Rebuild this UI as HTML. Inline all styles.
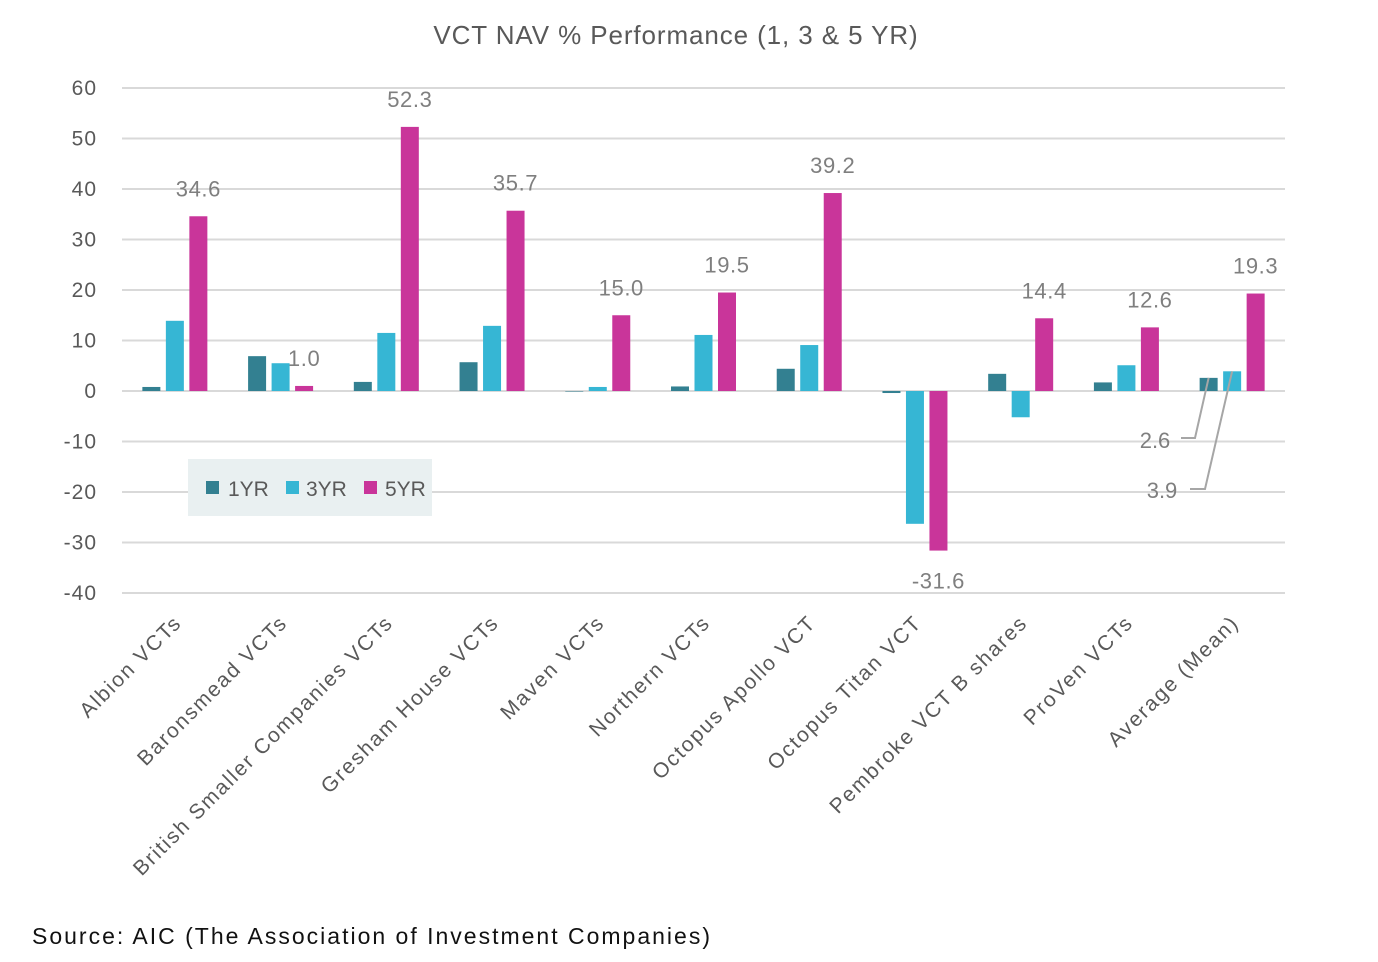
<!DOCTYPE html>
<html><head><meta charset="utf-8"><style>
body{margin:0;background:#fff;width:1378px;height:957px;overflow:hidden;font-family:"Liberation Sans",sans-serif}
</style></head><body>
<svg id="chart" width="1378" height="957" font-family="Liberation Sans, sans-serif">
<text x="676" y="44" text-anchor="middle" font-size="26" letter-spacing="0.9" fill="#595959">VCT NAV % Performance (1, 3 &amp; 5 YR)</text>
<g id="grid"></g><g id="bars"></g><g id="labels"></g>
<g>
<rect x="188" y="459" width="244" height="57" fill="#e9f0f1"/>
<g><rect x="206" y="481" width="13" height="13" fill="#338091"/><text x="228" y="496" font-size="21" fill="#595959">1YR</text></g>
<g><rect x="286" y="481" width="13" height="13" fill="#36b6d4"/><text x="306" y="496" font-size="21" fill="#595959">3YR</text></g>
<g><rect x="364" y="481" width="13" height="13" fill="#c9359a"/><text x="385" y="496" font-size="21" fill="#595959">5YR</text></g>
</g>
<text x="32" y="944" font-size="23" letter-spacing="2" fill="#111">Source: AIC (The Association of Investment Companies)</text>
</svg>
<script>
const categories=["Albion VCTs","Baronsmead VCTs","British Smaller Companies VCTs","Gresham House VCTs","Maven VCTs","Northern VCTs","Octopus Apollo VCT","Octopus Titan VCT","Pembroke VCT B shares","ProVen VCTs","Average (Mean)"];
const yr1=[0.8,6.9,1.8,5.7,0,0.9,4.4,-0.4,3.4,1.7,2.6];
const yr3=[13.9,5.5,11.5,12.9,0.8,11.1,9.1,-26.3,-5.2,5.1,3.9];
const yr5=[34.6,1.0,52.3,35.7,15.0,19.5,39.2,-31.6,14.4,12.6,19.3];
const yTicks=[60,50,40,30,20,10,0,-10,-20,-30,-40];
const NS="http://www.w3.org/2000/svg";
const x0=122,x1=1285,yTop=88,yBot=593,vMax=60,vMin=-40;
const y=v=>yTop+(vMax-v)*(yBot-yTop)/(vMax-vMin);
const cw=(x1-x0)/categories.length;
const cx=i=>x0+cw*(i+0.5);
function mk(tag,attrs,parent){const e=document.createElementNS(NS,tag);for(const k in attrs)e.setAttribute(k,attrs[k]);document.getElementById(parent).appendChild(e);return e;}
yTicks.forEach(t=>{
 const l=mk('line',{x1:x0,x2:x1,y1:y(t),y2:y(t),stroke:'#d9d9d9','stroke-width':2},'grid');
 
 
 const tx=mk('text',{x:97,y:y(t)+7,'text-anchor':'end','font-size':21,'letter-spacing':1,fill:'#595959'},'labels');
 tx.textContent=t;
 
 
});
const series=[[yr1,'#338091',-23.5,'1yr'],[yr3,'#36b6d4',0,'3yr'],[yr5,'#c9359a',23.5,'5yr']];
const bw=18;
categories.forEach((c,i)=>{
 series.forEach(([arr,col,off,nm])=>{
  const v=arr[i];const top=Math.min(y(v),y(0));const h=Math.abs(y(v)-y(0));
  const r=mk('rect',{x:cx(i)+off-bw/2,y:top,width:bw,height:Math.max(h,0.5),fill:col},'bars');
  
  
 });
 const v=yr5[i];
 let lx=cx(i)+23.5, ly=v>=0?y(v)-20:y(v)+38;
 const dl=mk('text',{x:lx,y:ly,'text-anchor':'middle','font-size':22,'letter-spacing':0.6,fill:'#7f7f7f'},'labels');
 dl.textContent=v.toFixed(1);
 
 
 const ax=cx(i)+8, ay=624;
 const cl=mk('text',{x:ax,y:ay,'text-anchor':'end','font-size':21,'letter-spacing':1.8,fill:'#595959',transform:`rotate(-45 ${ax} ${ay})`},'labels');
 cl.textContent=c;
 
 
});
const n=categories.length-1;
const l1=mk('text',{x:1155,y:448,'text-anchor':'middle','font-size':22,fill:'#7f7f7f'},'labels');
l1.textContent=yr1[n].toFixed(1);


const p1=mk('polyline',{points:`1181,438 1195,438 ${cx(n)-23.5},${y(yr1[n])}`,fill:'none',stroke:'#a6a6a6','stroke-width':2},'labels');


const l2=mk('text',{x:1162,y:498,'text-anchor':'middle','font-size':22,fill:'#7f7f7f'},'labels');
l2.textContent=yr3[n].toFixed(1);


const p2=mk('polyline',{points:`1190,489 1205,489 ${cx(n)},${y(yr3[n])}`,fill:'none',stroke:'#a6a6a6','stroke-width':2},'labels');


</script>
</body></html>
